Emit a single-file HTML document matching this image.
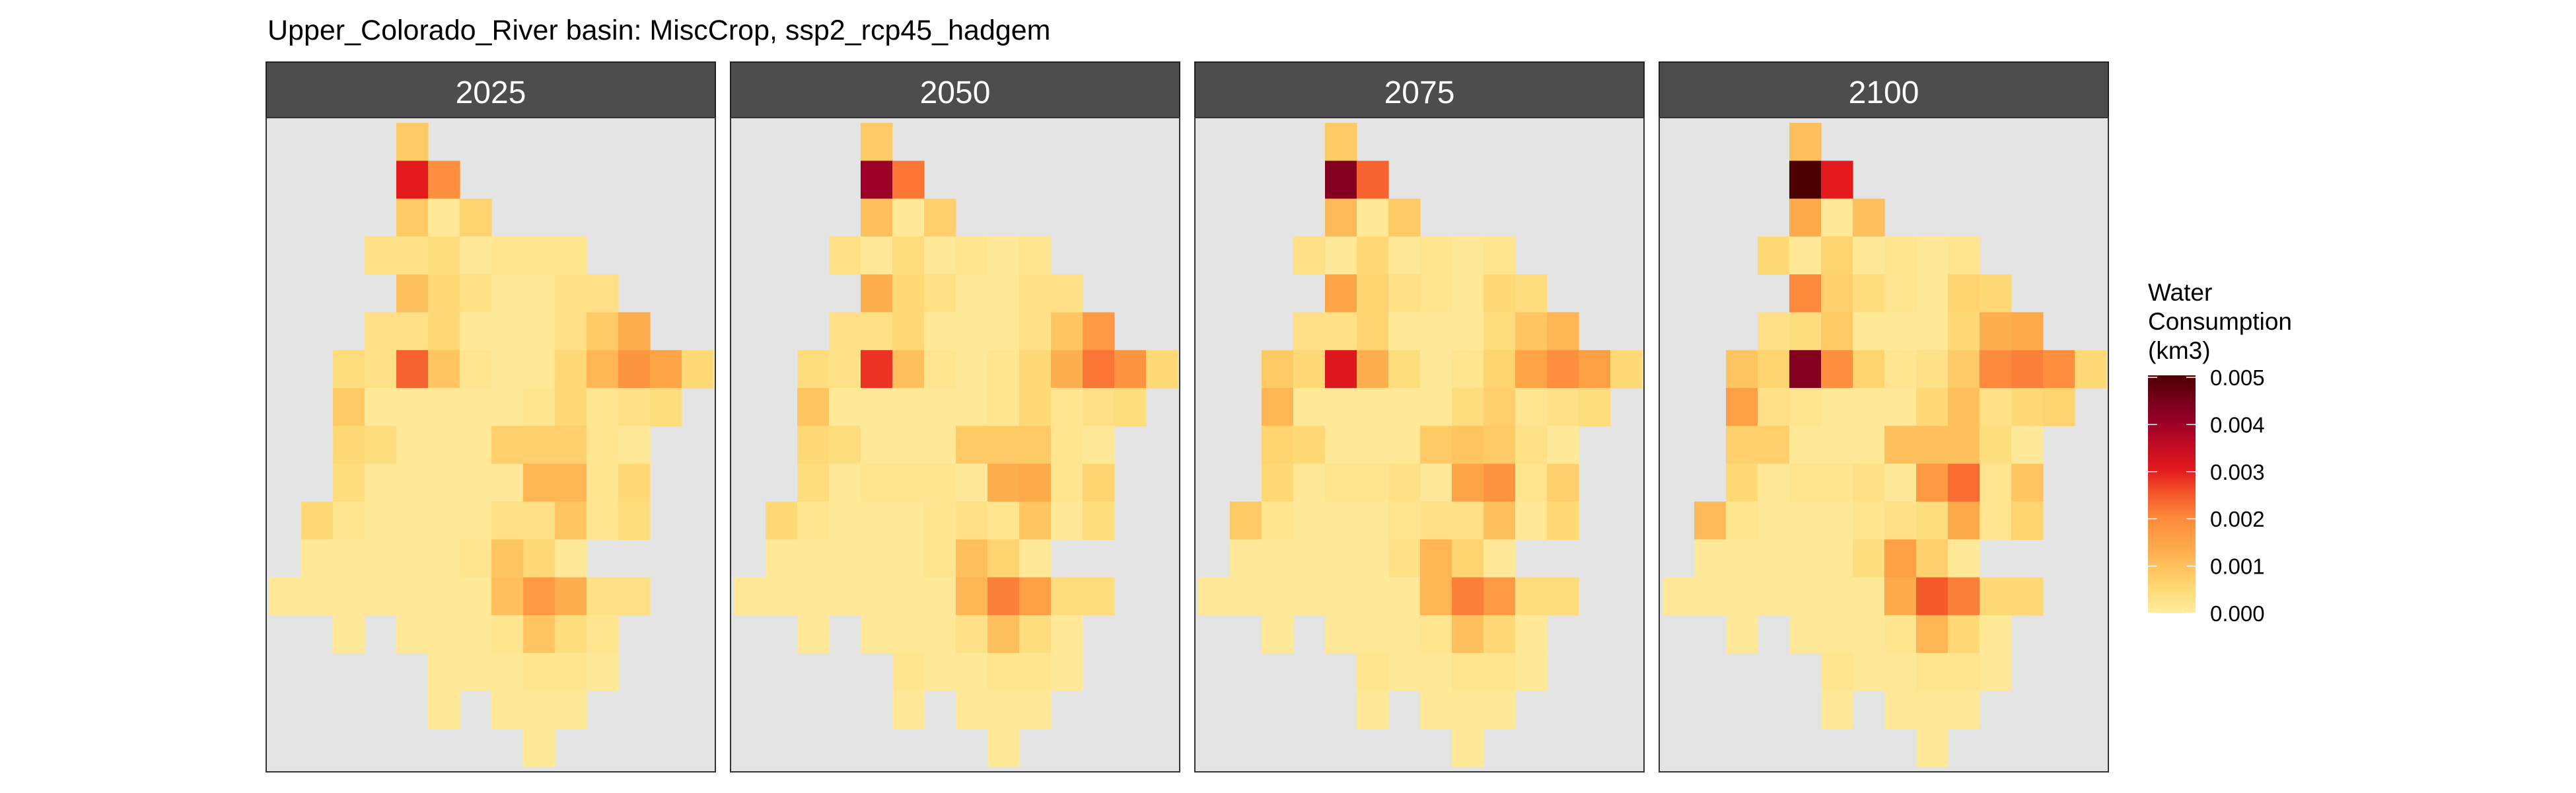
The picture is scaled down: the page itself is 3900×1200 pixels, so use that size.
<!DOCTYPE html>
<html><head><meta charset="utf-8">
<style>
html,body{margin:0;padding:0;background:#fff;}
svg{display:block;font-family:"Liberation Sans",Arial,sans-serif;}
</style></head>
<body>
<svg id="chart" width="3900" height="1200" viewBox="0 0 3900 1200" xmlns="http://www.w3.org/2000/svg">
<rect x="0" y="0" width="3900" height="1200" fill="#ffffff"/>
<text x="405" y="60" font-size="43" fill="#000">Upper_Colorado_River basin: MiscCrop, ssp2_rcp45_hadgem</text>
<g id="panels"></g>
<g id="legend">
<text x="3252" y="455" font-size="37" fill="#000">Water</text>
<text x="3252" y="499" font-size="37" fill="#000">Consumption</text>
<text x="3252" y="543" font-size="37" fill="#000">(km3)</text>
</g>
</svg>
<script>
const _ = null;
const years = ["2025","2050","2075","2100"];
// values in units of 1e-4 km3
const grid2025 = [
[_,_,_,_,8,_,_,_,_,_,_,_,_,_],
[_,_,_,_,30,19,_,_,_,_,_,_,_,_],
[_,_,_,_,8,1,6,_,_,_,_,_,_,_],
[_,_,_,3,3,4,1,2,2,2,_,_,_,_],
[_,_,_,_,10,5,3,1,1,3,3,_,_,_],
[_,_,_,3,3,5,1,1,1,3,8,13,_,_],
[_,_,4,3,24,9,2,1,1,5,12,18,15,5],
[_,_,8,1,1,1,1,1,2,5,2,3,4,_],
[_,_,5,4,1,1,1,7,7,7,2,1,_,_],
[_,_,4,1,1,1,1,1,12,12,2,5,_,_],
[_,5,2,1,1,1,1,3,3,9,2,4,_,_],
[_,1,1,1,1,1,2,9,5,1,_,_,_,_],
[1,1,1,1,1,1,1,10,17,13,3,3,_,_],
[_,_,1,_,1,1,1,2,9,4,2,_,_,_],
[_,_,_,_,_,1,1,1,2,2,1,_,_,_],
[_,_,_,_,_,1,_,1,1,1,_,_,_,_],
[_,_,_,_,_,_,_,_,1,_,_,_,_,_]
];
const grid2050 = [
[_,_,_,_,8,_,_,_,_,_,_,_,_,_],
[_,_,_,_,40,22,_,_,_,_,_,_,_,_],
[_,_,_,_,10,1,7,_,_,_,_,_,_,_],
[_,_,_,3,1,4,1,2,1,2,_,_,_,_],
[_,_,_,_,13,5,3,1,1,3,3,_,_,_],
[_,_,_,3,3,5,1,1,1,3,9,17,_,_],
[_,_,4,3,28,10,2,1,2,5,13,22,18,5],
[_,_,9,1,1,1,1,1,2,5,2,3,4,_],
[_,_,5,4,1,1,1,8,8,8,2,1,_,_],
[_,_,4,1,2,2,2,1,13,14,2,6,_,_],
[_,5,2,1,1,1,2,3,2,9,1,4,_,_],
[_,1,1,1,1,1,2,10,6,1,_,_,_,_],
[1,1,1,1,1,1,1,12,21,16,4,4,_,_],
[_,_,1,_,1,1,1,3,10,4,1,_,_,_],
[_,_,_,_,_,2,1,1,2,2,1,_,_,_],
[_,_,_,_,_,1,_,1,1,1,_,_,_,_],
[_,_,_,_,_,_,_,_,1,_,_,_,_,_]
];
const grid2075 = [
[_,_,_,_,8,_,_,_,_,_,_,_,_,_],
[_,_,_,_,43,24,_,_,_,_,_,_,_,_],
[_,_,_,_,11,1,8,_,_,_,_,_,_,_],
[_,_,_,3,1,5,1,2,1,2,_,_,_,_],
[_,_,_,_,15,6,3,2,1,5,4,_,_,_],
[_,_,_,3,3,6,1,1,1,4,9,12,_,_],
[_,_,8,5,31,13,4,1,2,6,15,19,16,5],
[_,_,12,1,1,1,1,1,4,7,2,3,4,_],
[_,_,6,5,1,1,1,8,9,8,3,1,_,_],
[_,_,5,1,2,2,3,1,15,18,2,7,_,_],
[_,8,2,1,1,1,2,3,3,10,1,5,_,_],
[_,1,1,1,1,1,3,12,6,1,_,_,_,_],
[1,1,1,1,1,1,1,12,21,17,4,4,_,_],
[_,_,1,_,1,1,1,2,10,5,1,_,_,_],
[_,_,_,_,_,2,1,1,2,2,1,_,_,_],
[_,_,_,_,_,1,_,1,1,1,_,_,_,_],
[_,_,_,_,_,_,_,_,1,_,_,_,_,_]
];
const grid2100 = [
[_,_,_,_,10,_,_,_,_,_,_,_,_,_],
[_,_,_,_,50,30,_,_,_,_,_,_,_,_],
[_,_,_,_,14,1,10,_,_,_,_,_,_,_],
[_,_,_,5,1,6,1,2,1,2,_,_,_,_],
[_,_,_,_,20,7,4,2,1,6,5,_,_,_],
[_,_,_,3,4,8,1,1,1,5,13,14,_,_],
[_,_,9,6,43,19,6,2,3,8,20,21,19,5],
[_,_,16,3,2,1,1,1,5,10,3,5,6,_],
[_,_,7,7,1,1,1,10,10,10,4,1,_,_],
[_,_,5,1,2,2,3,1,17,23,2,9,_,_],
[_,11,2,1,1,1,2,3,4,14,2,6,_,_],
[_,1,1,1,1,1,4,16,7,1,_,_,_,_],
[1,1,1,1,1,1,1,14,25,21,5,5,_,_],
[_,_,1,_,1,1,1,2,12,5,1,_,_,_],
[_,_,_,_,_,2,1,1,2,2,1,_,_,_],
[_,_,_,_,_,1,_,1,1,1,_,_,_,_],
[_,_,_,_,_,_,_,_,1,_,_,_,_,_]
];
const grids = [grid2025, grid2050, grid2075, grid2100];
const legendTicks = [0, 0.001, 0.002, 0.003, 0.004, 0.005];
const legendTickLabels = ["0.000","0.001","0.002","0.003","0.004","0.005"];
const colorStops = [[0,"#FFEDA0"],[0.0005,"#FED976"],[0.001,"#FEC05C"],[0.0015,"#FDA447"],[0.002,"#FD8A3C"],[0.0025,"#F4592B"],[0.003,"#E31A1C"],[0.0035,"#C30D23"],[0.004,"#9B0027"],[0.0045,"#740019"],[0.005,"#4D0000"]];

const NS = "http://www.w3.org/2000/svg";
function hex(c){return [1,3,5].map(i=>parseInt(c.substr(i,2),16));}
function colorScale(v){
  v = Math.max(0, Math.min(0.005, v));
  for(let i=0;i<colorStops.length-1;i++){
    const [a,ca]=colorStops[i],[b,cb]=colorStops[i+1];
    if(v<=b){const t=(v-a)/(b-a);const A=hex(ca),B=hex(cb);
      return "rgb("+A.map((x,k)=>Math.round(x+(B[k]-x)*t)).join(",")+")";}
  }
  return colorStops[colorStops.length-1][1];
}
function mk(tag, attrs, parent){const e=document.createElementNS(NS,tag);for(const k in attrs)e.setAttribute(k,attrs[k]);parent.appendChild(e);return e;}

const panelW=680, panelTop=178, panelBot=1168, stripTop=94, nCols=14, nRows=17;
const gridX0=5, cellW=48.0, gridY0=8, cellH=57.3;
function xScale(c,px){return px+gridX0+c*cellW;}
function yScale(r){return panelTop+gridY0+r*cellH;}

const panelsG=document.getElementById('panels');
years.forEach((yr,i)=>{
  const px=403+i*703;
  const g=mk('g',{},panelsG);
  
  
  const strip=mk('rect',{x:px,y:stripTop,width:panelW,height:panelTop-stripTop,fill:"#4D4D4D",stroke:"#222",'stroke-width':2},g);
  
  
  const st=mk('text',{x:px+panelW/2,y:156,'font-size':48,fill:"#fff",'text-anchor':"middle"},g);
  st.textContent=yr;
  
  
  const bg=mk('rect',{x:px,y:panelTop,width:panelW,height:panelBot-panelTop,fill:"#E4E4E4"},g);
  
  
  const grid=grids[i];
  grid.forEach((row,r)=>row.forEach((v,c)=>{
    if(v===null)return;
    const val=v*0.0001;
    const x0=xScale(c,px), y0=yScale(r);
    const cell=mk('rect',{x:x0.toFixed(2),y:y0.toFixed(2),width:(cellW+0.6).toFixed(2),height:(cellH+0.6).toFixed(2),fill:colorScale(val)},g);
    
    
  }));
  const border=mk('rect',{x:px,y:panelTop,width:panelW,height:panelBot-panelTop,fill:"none",stroke:"#333",'stroke-width':2},g);
  
  
});

// legend colorbar
const leg=document.getElementById('legend');
const barX=3252, barW=72, barTop=568, barBot=928, vMax=0.005;
function lyScale(v){return barBot-(v/vMax)*(barBot-barTop-3);}
const defs=mk('defs',{},leg);
const lg=mk('linearGradient',{id:'lgrad',x1:0,y1:1,x2:0,y2:0},defs);
colorStops.forEach(([v,c])=>mk('stop',{offset:(v/vMax),'stop-color':c},lg));
const bar=mk('rect',{x:barX,y:barTop,width:barW,height:barBot-barTop,fill:'url(#lgrad)'},leg);


legendTicks.forEach((t,k)=>{
  const y=lyScale(t);
  const t1=mk('line',{x1:barX,x2:barX+14,y1:y,y2:y,stroke:'#fff','stroke-width':1.5},leg);
  
  
  const t2=mk('line',{x1:barX+barW-14,x2:barX+barW,y1:y,y2:y,stroke:'#fff','stroke-width':1.5},leg);
  
  
  const lab=mk('text',{x:3346,y:y+12,'font-size':33,fill:'#000'},leg);
  lab.textContent=legendTickLabels[k];
  
  
});
</script>
</body></html>
